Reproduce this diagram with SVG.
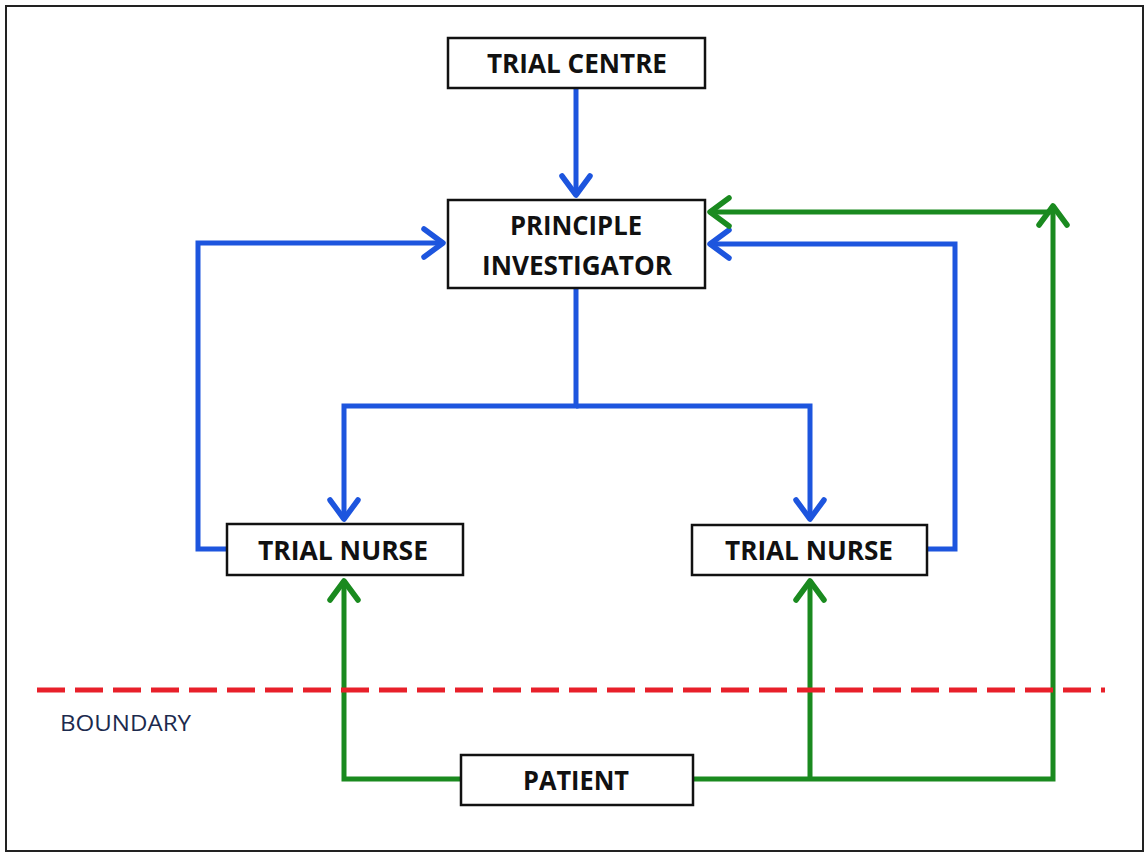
<svg xmlns="http://www.w3.org/2000/svg" width="1147" height="854" viewBox="0 0 1147 854">
<defs>
<style>
.box{fill:#fff;stroke:#111;stroke-width:2.5}
.lbl{font-family:"Open Sans","Liberation Sans",sans-serif;font-weight:bold;font-size:27px;fill:#111;text-anchor:middle}
.blue{fill:none;stroke:#1d55de;stroke-width:5;stroke-linejoin:miter}
.green{fill:none;stroke:#1a8a1f;stroke-width:5;stroke-linejoin:miter}
.bnd{font-family:"Open Sans","Liberation Sans",sans-serif;font-size:21px;fill:#1c2a4e}
</style>
<marker id="ab" markerUnits="userSpaceOnUse" markerWidth="50" markerHeight="50" viewBox="-25 -25 50 50" refX="0" refY="0" orient="auto">
<path d="M-20,-14 L-1,0 L-20,14" fill="none" stroke="#1d55de" stroke-width="5.5" stroke-linecap="round" stroke-linejoin="round"/>
</marker>
<marker id="ag" markerUnits="userSpaceOnUse" markerWidth="50" markerHeight="50" viewBox="-25 -25 50 50" refX="0" refY="0" orient="auto">
<path d="M-20,-14 L-1,0 L-20,14" fill="none" stroke="#1a8a1f" stroke-width="5.5" stroke-linecap="round" stroke-linejoin="round"/>
</marker>
</defs>
<rect x="0" y="0" width="1147" height="854" fill="#fff"/>
<rect x="6" y="6" width="1137" height="845" fill="none" stroke="#222" stroke-width="2"/>
<g id="connectors">
<path class="blue" d="M576,89 V196" marker-end="url(#ab)"/>
<path class="blue" d="M576,289 V406 H344 V520" marker-end="url(#ab)"/>
<path class="blue" d="M576,406 H810 V520" marker-end="url(#ab)"/>
<path class="blue" d="M227,549 H198 V243 H444" marker-end="url(#ab)"/>
<path class="blue" d="M927,549 H955 V244 H709" marker-end="url(#ab)"/>
<path class="green" d="M461,779 H344 V580" marker-end="url(#ag)"/>
<path class="green" d="M693,779 H1053 V205" marker-end="url(#ag)"/>
<path class="green" d="M810,779 V580" marker-end="url(#ag)"/>
<path class="green" d="M1053,212 H709" marker-end="url(#ag)"/>
</g>
<g id="boundary">
<line x1="37" y1="690" x2="1105" y2="690" stroke="#e8202a" stroke-width="5" stroke-dasharray="28 10"/>
<text class="bnd" x="60" y="731" textLength="131" lengthAdjust="spacingAndGlyphs">BOUNDARY</text>
</g>
<g id="trial-centre">
<rect class="box" x="448" y="38" width="257" height="50"/>
<text class="lbl" x="577" y="73" textLength="180" lengthAdjust="spacingAndGlyphs">TRIAL CENTRE</text>
</g>
<g id="principle-investigator">
<rect class="box" x="448" y="200" width="257" height="88"/>
<text class="lbl" x="576" y="235" textLength="132" lengthAdjust="spacingAndGlyphs">PRINCIPLE</text>
<text class="lbl" x="577" y="275" textLength="190" lengthAdjust="spacingAndGlyphs">INVESTIGATOR</text>
</g>
<g id="trial-nurse-left">
<rect class="box" x="227" y="524" width="236" height="51"/>
<text class="lbl" x="343" y="560" textLength="170" lengthAdjust="spacingAndGlyphs">TRIAL NURSE</text>
</g>
<g id="trial-nurse-right">
<rect class="box" x="692" y="525" width="235" height="50"/>
<text class="lbl" x="809" y="560" textLength="168" lengthAdjust="spacingAndGlyphs">TRIAL NURSE</text>
</g>
<g id="patient">
<rect class="box" x="461" y="755" width="232" height="50"/>
<text class="lbl" x="576" y="790" textLength="106" lengthAdjust="spacingAndGlyphs">PATIENT</text>
</g>
</svg>
